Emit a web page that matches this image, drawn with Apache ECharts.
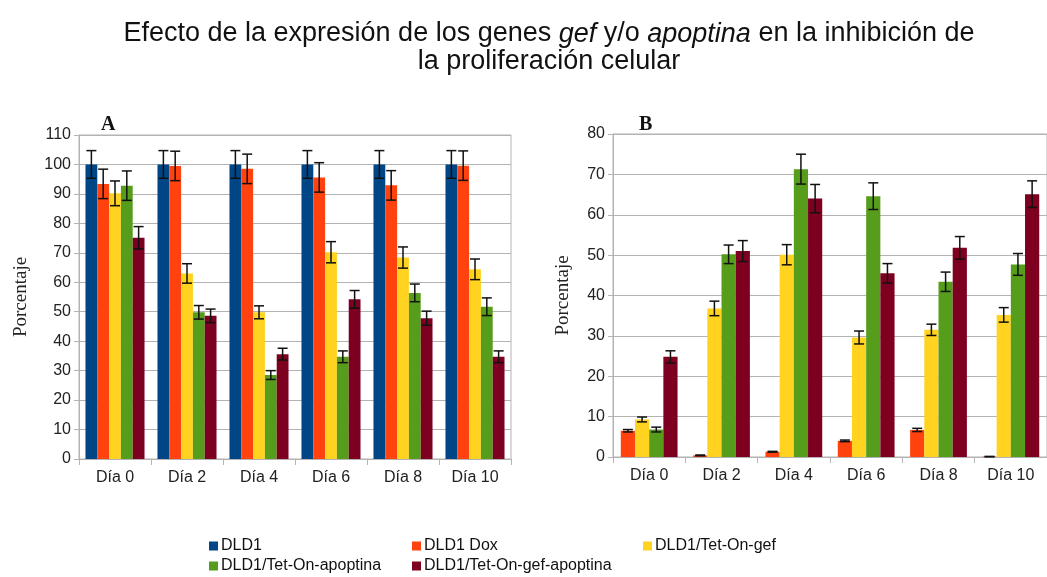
<!DOCTYPE html>
<html>
<head>
<meta charset="utf-8">
<script src="https://cdn.jsdelivr.net/npm/echarts@6/dist/echarts.min.js"></script>
<style>
  html, body { margin: 0; padding: 0; background: #fff; }
  #main { width: 1047px; height: 577px; }
</style>
</head>
<body>
<div id="main"></div>
<script>
var categories = ['Día 0', 'Día 2', 'Día 4', 'Día 6', 'Día 8', 'Día 10'];
var seriesNames = ['DLD1', 'DLD1 Dox', 'DLD1/Tet-On-gef', 'DLD1/Tet-On-apoptina', 'DLD1/Tet-On-gef-apoptina'];

// panel A
var aDld1 = [100, 100, 100, 100, 100, 100];
var aDld1Err = [4.7, 4.7, 4.7, 4.7, 4.7, 4.7];
var aDox = [93.4, 99.5, 98.5, 95.6, 92.9, 99.6];
var aDoxErr = [5, 5, 5, 5, 5, 5];
var aGef = [90.2, 63, 49.8, 70.2, 68.4, 64.4];
var aGefErr = [4.2, 3.3, 2.2, 3.6, 3.6, 3.5];
var aApo = [92.8, 49.8, 28.5, 34.7, 56.4, 51.7];
var aApoErr = [5, 2.3, 1.5, 2, 3, 3];
var aGefApo = [75.1, 48.6, 35.6, 54.2, 47.8, 34.7];
var aGefApoErr = [3.8, 2.3, 2, 3, 2.4, 2];

// panel B
var bDox = [6.5, 0.4, 1.3, 4.0, 6.7, 0.1];
var bDoxErr = [0.3, 0.1, 0.1, 0.2, 0.4, 0.05];
var bGef = [9.3, 36.8, 50.1, 29.6, 31.5, 35.2];
var bGefErr = [0.6, 1.8, 2.5, 1.6, 1.4, 1.8];
var bApo = [6.8, 50.2, 71.3, 64.6, 43.4, 47.7];
var bApoErr = [0.6, 2.3, 3.7, 3.3, 2.4, 2.7];
var bGefApo = [24.8, 51, 64, 45.5, 51.8, 65.1];
var bGefApoErr = [1.5, 2.6, 3.5, 2.4, 2.8, 3.3];

var colors = ['#004586', '#ff420e', '#ffd320', '#579d1c', '#7e0021'];
var gapA = 0.18, gapB = 0.215;

function errRender(idx, n, gap) {
  return function (params, api) {
    var c = api.value(0), v = api.value(1), e = api.value(2);
    var band = api.size([1, 0])[0];
    var bw = band * (1 - gap) / n;
    var x = api.coord([c, v])[0] - band * (1 - gap) / 2 + bw * (idx + 0.5);
    var yt = api.coord([c, v + e])[1];
    var yb = api.coord([c, Math.max(v - e, 0)])[1];
    var cap = 5;
    var st = { stroke: '#111', lineWidth: 1.5 };
    return {
      type: 'group',
      children: [
        { type: 'line', shape: { x1: x, y1: yt, x2: x, y2: yb }, style: st },
        { type: 'line', shape: { x1: x - cap, y1: yt, x2: x + cap, y2: yt }, style: st },
        { type: 'line', shape: { x1: x - cap, y1: yb, x2: x + cap, y2: yb }, style: st }
      ]
    };
  };
}

function bars(name, vals, axis, gap) {
  return {
    name: name, type: 'bar', data: vals,
    xAxisIndex: axis, yAxisIndex: axis,
    barGap: 0, barCategoryGap: (gap * 100) + '%',
    itemStyle: { color: colors[seriesNames.indexOf(name)] },
    animation: false
  };
}

function errs(vals, err, idx, n, axis, gap) {
  return {
    type: 'custom', xAxisIndex: axis, yAxisIndex: axis, z: 5,
    renderItem: errRender(idx, n, gap),
    data: vals.map(function (v, i) { return [i, v, err[i]]; }),
    silent: true, animation: false, tooltip: { show: false }
  };
}

var axisText = { color: '#222', fontSize: 16, fontFamily: 'Liberation Sans' };
var gridLine = { show: true, lineStyle: { color: '#b3b3b3', width: 1 } };

function xAx(i) {
  return {
    type: 'category', gridIndex: i, data: categories,
    axisLine: { lineStyle: { color: '#b3b3b3' } },
    axisTick: { show: true, length: 6, lineStyle: { color: '#b3b3b3' } },
    axisLabel: Object.assign({ margin: 11 }, axisText)
  };
}
function yAx(i, max, gap) {
  return {
    type: 'value', gridIndex: i, min: 0, max: max, interval: 10,
    name: 'Porcentaje', nameLocation: 'middle', nameGap: gap,
    nameTextStyle: { fontFamily: 'Liberation Serif', fontSize: 19, color: '#222' },
    axisLine: { show: true, lineStyle: { color: '#b3b3b3' } },
    axisTick: { show: true, length: 5, lineStyle: { color: '#b3b3b3' } },
    axisLabel: Object.assign({ margin: 8 }, axisText),
    splitLine: gridLine
  };
}

function legendItem(name, left, top) {
  return {
    data: [name], left: left, top: top, icon: 'rect',
    itemWidth: 9, itemHeight: 9, itemGap: 0, padding: 0,
    textStyle: { fontSize: 16, fontFamily: 'Liberation Sans', color: '#111', padding: [0, 0, 0, -2] }
  };
}

var option = {
  animation: false,
  title: [
    {
      left: 544, top: 15, textAlign: 'center',
      text: '{n|Efecto de la expresión de los genes }{i|gef}{n| y/o }{i|apoptina}{n| en la inhibición de}\n{n|la proliferación celular}',
      textStyle: {
        fontWeight: 'normal',
        rich: {
          n: { fontSize: 27, fontWeight: 'normal', fontFamily: 'Liberation Sans', color: '#111', lineHeight: 28 },
          i: { fontSize: 27, fontWeight: 'normal', fontFamily: 'Liberation Sans', fontStyle: 'italic', color: '#111', lineHeight: 28 }
        }
      }
    },
    { text: 'A', left: 96, top: 110, textStyle: { fontFamily: 'Liberation Serif', fontWeight: 'bold', fontSize: 20, color: '#111' } },
    { text: 'B', left: 634, top: 110, textStyle: { fontFamily: 'Liberation Serif', fontWeight: 'bold', fontSize: 20, color: '#111' } }
  ],
  legend: [
    legendItem('DLD1', 209, 538),
    legendItem('DLD1 Dox', 412, 538),
    legendItem('DLD1/Tet-On-gef', 643, 538),
    legendItem('DLD1/Tet-On-apoptina', 209, 558),
    legendItem('DLD1/Tet-On-gef-apoptina', 412, 558)
  ],
  grid: [
    { left: 79, top: 135, width: 432, height: 324, show: true, borderColor: '#b3b3b3', borderWidth: 1 },
    { left: 613, top: 134, width: 444, height: 323, show: true, borderColor: '#b3b3b3', borderWidth: 1 }
  ],
  xAxis: [xAx(0), xAx(1)],
  yAxis: [yAx(0, 110, 48), yAx(1, 80, 40)],
  series: [
    bars('DLD1', aDld1, 0, gapA),
    bars('DLD1 Dox', aDox, 0, gapA),
    bars('DLD1/Tet-On-gef', aGef, 0, gapA),
    bars('DLD1/Tet-On-apoptina', aApo, 0, gapA),
    bars('DLD1/Tet-On-gef-apoptina', aGefApo, 0, gapA),
    errs(aDld1, aDld1Err, 0, 5, 0, gapA),
    errs(aDox, aDoxErr, 1, 5, 0, gapA),
    errs(aGef, aGefErr, 2, 5, 0, gapA),
    errs(aApo, aApoErr, 3, 5, 0, gapA),
    errs(aGefApo, aGefApoErr, 4, 5, 0, gapA),
    bars('DLD1 Dox', bDox, 1, gapB),
    bars('DLD1/Tet-On-gef', bGef, 1, gapB),
    bars('DLD1/Tet-On-apoptina', bApo, 1, gapB),
    bars('DLD1/Tet-On-gef-apoptina', bGefApo, 1, gapB),
    errs(bDox, bDoxErr, 0, 4, 1, gapB),
    errs(bGef, bGefErr, 1, 4, 1, gapB),
    errs(bApo, bApoErr, 2, 4, 1, gapB),
    errs(bGefApo, bGefApoErr, 3, 4, 1, gapB)
  ]
};

var myChart = echarts.init(document.getElementById('main'));
myChart.setOption(option);
</script>
</body>
</html>
